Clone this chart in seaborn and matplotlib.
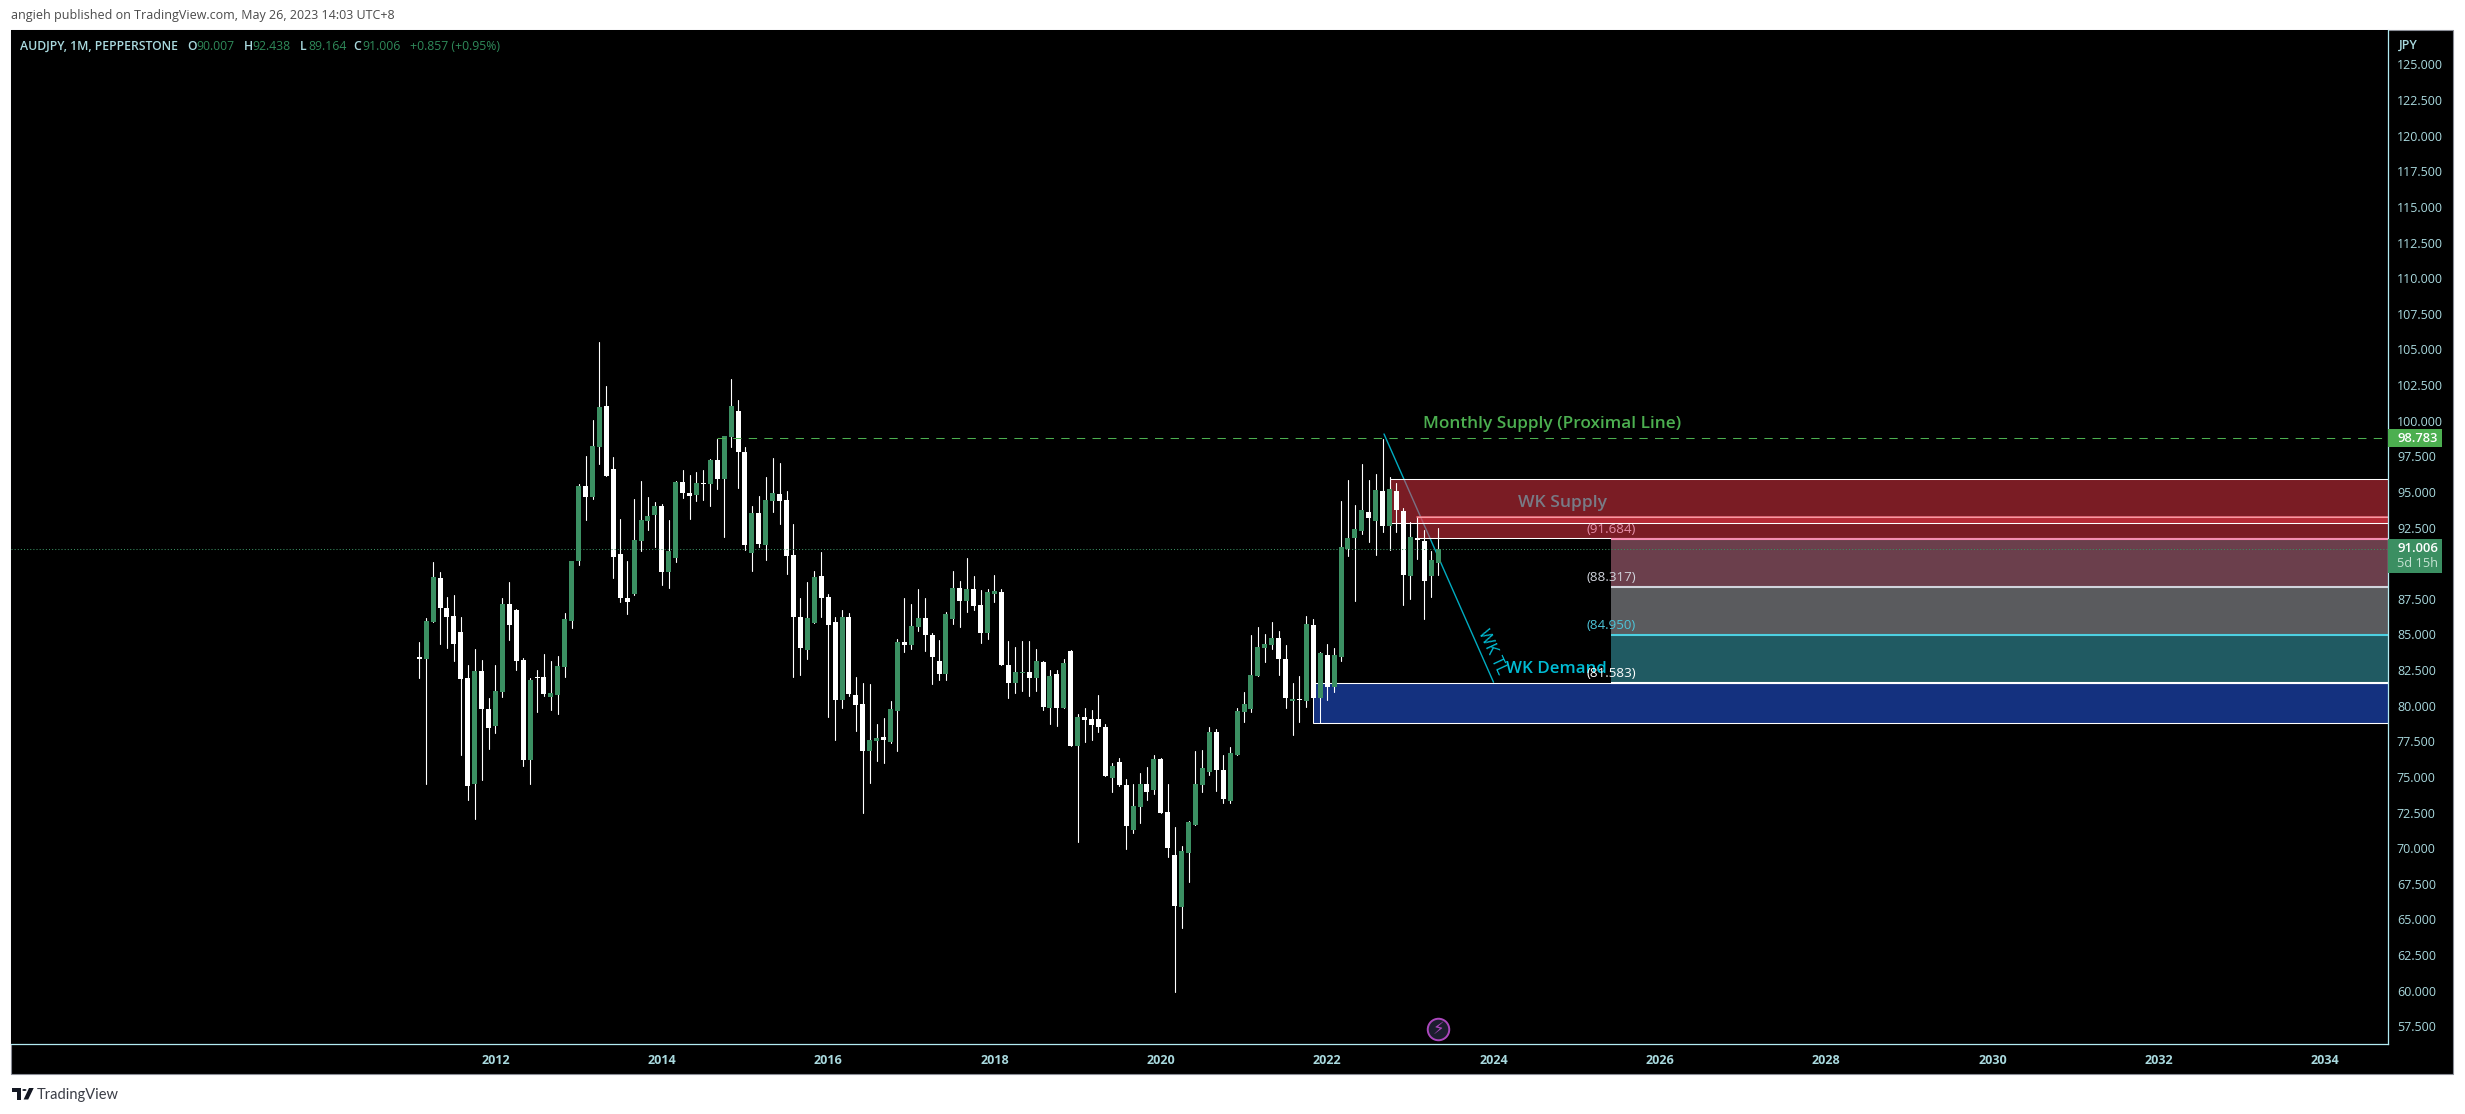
import numpy as np
import pandas as pd
import seaborn as sns
import matplotlib.pyplot as plt
from matplotlib.patches import Rectangle, Polygon, Circle

## monthly candles Feb 2011 - May 2023
opens = [83.42,83.28,85.90,88.96,86.86,86.30,85.18,81.95,74.51,82.44,79.77,78.58,80.96,87.14,86.72,83.21,76.19,82.02,82.02,80.61,
         80.75,82.72,85.95,90.16,95.42,94.65,98.16,101.03,96.61,90.65,87.56,87.84,91.56,92.96,93.39,94.02,89.39,90.37,95.70,94.93,
         94.79,95.63,95.56,97.25,95.91,98.86,100.68,97.81,90.72,93.53,91.28,94.37,94.86,94.44,90.58,86.23,83.91,85.81,89.10,87.63,
         85.88,80.40,86.23,80.75,80.12,76.82,77.53,77.80,77.45,79.63,84.47,84.26,85.52,86.15,84.96,83.14,82.22,86.08,88.26,87.35,
         88.19,87.07,85.10,87.84,87.98,82.86,81.59,82.29,82.37,81.94,83.07,79.84,82.22,79.84,83.84,77.17,79.21,79.07,79.07,78.51,
         74.93,76.05,74.43,71.28,72.89,74.50,74.08,76.26,72.54,69.52,65.87,69.66,71.63,74.43,75.35,78.15,75.49,73.31,76.54,79.56,
         79.77,82.09,84.05,84.26,84.75,83.28,80.33,80.47,80.33,85.66,80.54,83.56,81.31,83.41,91.00,91.77,92.26,93.59,92.96,95.06,
         92.61,95.06,93.66,89.10,91.77,91.56,89.10,90.007]
highs = [84.47,86.13,90.06,89.36,87.61,87.75,86.20,82.86,83.96,83.21,80.54,82.86,87.54,88.68,86.79,83.35,81.95,82.51,83.63,83.14,
         83.49,86.51,90.16,95.56,97.53,100.05,105.53,102.44,97.46,93.10,90.16,94.51,95.77,94.65,94.30,94.16,93.03,95.77,96.54,96.19,
         96.40,96.54,97.32,98.72,98.93,102.93,101.46,98.16,94.02,94.72,96.05,97.39,97.03,95.07,92.75,87.56,88.68,89.46,90.79,87.84,
         86.23,86.72,86.51,82.02,81.60,81.53,78.72,79.13,80.33,84.68,87.56,87.14,88.19,87.56,85.10,84.61,86.58,89.45,88.75,90.37,
         89.10,88.12,88.19,89.17,88.19,84.54,84.12,84.54,84.54,83.98,83.14,82.50,82.50,83.28,83.91,79.42,79.84,79.70,80.75,78.72,
         75.98,76.33,74.86,74.50,75.28,75.70,76.54,76.33,74.50,71.48,70.15,71.91,76.82,76.89,78.50,78.36,76.54,77.10,79.84,80.96,
         84.96,85.52,85.03,85.87,85.24,84.26,81.59,82.09,86.30,86.08,83.77,84.33,84.05,94.36,95.84,94.08,96.96,95.84,96.26,98.71,
         96.05,95.63,93.87,92.89,93.17,92.33,90.85,92.438]
lows = [81.95,74.51,85.90,84.33,84.05,83.14,76.54,73.38,72.05,74.79,76.96,78.09,80.61,84.61,82.51,75.77,74.51,79.56,80.68,79.70,
        79.42,82.02,85.46,89.88,93.03,94.51,96.96,96.12,88.96,87.28,86.44,87.77,90.86,92.33,91.14,88.47,88.26,90.09,94.58,93.10,
        94.37,94.44,94.02,95.21,91.84,98.16,95.28,90.93,89.46,91.14,90.23,93.60,92.75,89.25,82.02,82.16,83.28,85.81,86.23,79.21,
        77.60,79.84,80.68,78.23,72.47,74.58,76.12,75.98,77.38,76.82,83.77,83.98,85.24,83.84,81.52,81.80,81.80,85.73,85.52,86.58,
        86.72,84.40,84.68,87.28,82.86,80.54,80.89,81.03,80.68,81.03,79.70,78.72,78.58,79.84,77.17,70.43,77.45,77.59,78.15,75.07,
        73.94,74.36,69.94,71.07,71.77,73.38,73.80,72.47,69.38,59.91,64.40,67.63,71.63,73.94,75.14,74.01,73.17,73.17,76.54,78.86,
        79.56,82.09,83.07,83.98,82.15,79.84,77.94,78.86,79.91,80.54,80.54,80.40,80.96,83.13,90.50,87.34,92.05,91.49,90.57,92.19,
        90.92,92.19,87.06,87.48,90.29,86.08,87.63,89.164]
closes = [83.28,85.95,89.03,86.86,86.23,84.33,81.88,74.37,82.44,79.77,78.44,81.03,87.14,85.67,83.14,76.19,81.81,81.95,80.82,80.89,
          82.79,86.09,90.16,95.42,94.65,98.23,100.96,96.12,90.44,87.56,87.28,91.63,93.03,93.31,94.02,89.39,90.86,95.70,94.93,94.72,
          95.63,95.56,97.25,95.91,98.93,101.03,97.81,91.28,93.53,91.35,94.44,94.93,94.37,90.51,86.23,84.05,86.16,89.03,87.56,85.67,
          80.40,86.23,80.82,80.05,76.82,77.60,77.74,77.59,79.77,84.47,84.26,85.59,86.15,84.96,83.42,82.22,86.43,88.26,87.35,88.19,
          87.00,85.10,87.98,88.05,82.86,81.59,82.37,82.37,81.94,83.14,79.91,82.09,79.84,83.00,77.17,79.21,79.00,78.65,78.51,75.07,
          75.77,74.43,71.56,72.96,74.50,73.94,76.26,72.47,70.01,65.94,69.80,71.84,74.50,75.63,78.15,75.49,73.45,76.68,79.63,80.12,
          82.15,84.12,84.33,84.75,83.28,80.54,80.47,80.40,85.73,80.54,83.70,81.31,83.56,91.13,91.77,92.40,93.73,93.17,95.13,92.61,
          95.20,93.73,89.17,91.84,91.63,88.75,90.22,91.006]

# price axis / time axis
price_ticks = [57.5 + 2.5 * i for i in range(28)]
years = list(range(2012, 2036, 2))
year_pos = [11 + 12 * (y - 2012) for y in years]   # months since Feb 2011

# drawn levels
last_close = 91.006
proximal = 98.783
fib_levels = [91.684, 88.317, 84.950, 81.583]
fib_labels = ['(91.684)', '(88.317)', '(84.950)', '(81.583)']
supply_a = (140.1, 92.80, 95.88)
supply_b = (144.0, 91.75, 93.22)
demand_a = (129.0, 78.76, 81.57)
demand_b = (130.0, 78.76, 81.57)
fib_start = 172.0
trend_x = [139.2, 155.0]
trend_y = [99.07, 81.65]

W, H = 2465, 1114
GREEN = '#3b8f62'
PALE = '#a9d9de'
FONT = 'Open Sans'

sns.set_theme(style='dark', rc={'axes.facecolor': 'black', 'figure.facecolor': 'white'})
plt.rcParams['font.family'] = [FONT, 'DejaVu Sans']

fig = plt.figure(figsize=(W / 100, H / 100), dpi=100)

def fx(px):
    return px / W

def fy(py):
    return 1 - py / H

# black chart frame behind the axes
fig.add_artist(Rectangle((fx(11), fy(1074)), fx(2442), (1074 - 30) / H, transform=fig.transFigure,
                         fc='black', ec='#8a8d96', lw=0.8, zorder=-1))

ax = fig.add_axes([fx(11), fy(1044.3), (2388.3 - 11) / W, (1044.3 - 30) / H])

df = pd.DataFrame({'idx': np.arange(len(opens)), 'open': opens, 'high': highs, 'low': lows, 'close': closes})
df['bottom'] = df[['open', 'close']].min(axis=1)
df['body'] = (df['close'] - df['open']).abs()

## zones go first, the candles sit on top of them
xmax = 284.1
def zone(x0, y0, y1, face, alpha, edge='white', lw=0.75, z=1.5):
    ax.add_patch(Rectangle((x0, y0), xmax + 5 - x0, y1 - y0, fc=face, alpha=alpha, ec='none', zorder=z))
    if edge:
        ax.add_patch(Rectangle((x0, y0), xmax + 5 - x0, y1 - y0, fc='none', ec=edge, lw=lw, zorder=z + 0.1))

ax.plot(trend_x, trend_y, color='#00acc1', lw=1.0, zorder=1)

zone(supply_a[0], supply_a[1], supply_a[2], '#f43848', 0.5)
zone(supply_b[0], supply_b[1], supply_b[2], '#f43848', 0.5)
ax.plot([supply_b[0], xmax], [supply_b[2], supply_b[2]], color='#f47a86', lw=1.1, zorder=1.8)
zone(demand_a[0], demand_a[1], demand_a[2], '#2962ff', 0.5)
zone(demand_b[0], demand_b[1], demand_b[2], '#2962ff', 0.0)

# fib box, filled bands between the levels
band_colors = ['#6b3f4c', '#5a5b5e', '#205a62']
line_colors = ['#f48fb1', '#d1d4dc', '#4dd0e1', '#ffffff']
text_colors = ['#e58fa8', '#d1d4dc', '#4dc4d8', '#ffffff']
for i in range(3):
    ax.add_patch(Rectangle((fib_start, fib_levels[i + 1]), xmax + 5 - fib_start, fib_levels[i] - fib_levels[i + 1],
                           fc=band_colors[i], ec='none', zorder=1.9))
for lvl, lab, lc, tc in zip(fib_levels, fib_labels, line_colors, text_colors):
    ax.plot([fib_start, xmax + 5], [lvl, lvl], color=lc, lw=1.5, zorder=2, solid_capstyle='butt')
    ax.text(fib_start, lvl + 0.68, lab, color=tc, fontsize=9.6, ha='center', va='center', zorder=6)

## wicks and bodies
wicks = pd.concat([df[['idx', 'low']].rename(columns={'low': 'price'}),
                   df[['idx', 'high']].rename(columns={'high': 'price'})]).sort_values('idx', kind='stable')
sns.lineplot(data=wicks, x='idx', y='price', units='idx', estimator=None, color='white',
             lw=0.8, snap=True, sort=False, legend=False, ax=ax, zorder=2.5)

up = df[df['close'] >= df['open']]
down = df[df['close'] < df['open']]
sns.barplot(data=up, x='idx', y='body', bottom=up['bottom'], native_scale=True, width=0.72, color=GREEN,
            saturation=1, errorbar=None, linewidth=0, ax=ax, zorder=3)
sns.barplot(data=down, x='idx', y='body', bottom=down['bottom'], native_scale=True, width=0.72, color='white',
            saturation=1, errorbar=None, linewidth=0, ax=ax, zorder=3)

# price lines
ax.axhline(last_close, color=GREEN, lw=0.75, ls=(0, (1, 2)), zorder=4)
ax.plot([42.9, xmax], [proximal, proximal], color='#4caf50', lw=0.75, ls=(0, (8, 7)), zorder=4)

## drawing labels
ax.text(163.4, 99.78, 'Monthly Supply (Proximal Line)', color='#4caf50', fontsize=12.4, weight='semibold',
        ha='center', va='center', zorder=6)
ax.text(165.0, 94.2, 'WK Supply', color='#787b86', fontsize=12.6, weight='semibold', ha='center', va='center', zorder=6)
ax.text(164.0, 82.6, 'WK Demand', color='#00bcd4', fontsize=12.2, weight='semibold', ha='center', va='center', zorder=5)
ax.text(154.7, 83.8, 'WK TL', color='#00bcd4', fontsize=12, rotation=-65, ha='center', va='center', zorder=5)

# lightning badge at the bottom of the pane
ax.plot([147], [57.29], marker='o', ms=15.5, mfc='#1c1e2e', mec='#ab47bc', mew=1.4, zorder=6, clip_on=False)
ax.text(147, 57.29, '\u26a1', color='#ab47bc', fontsize=12, family='DejaVu Sans', ha='center', va='center', zorder=7)

## axes
ax.set_xlim(-58.9, xmax)
ax.set_ylim(56.24, 127.42)
ax.yaxis.tick_right()
ax.set_yticks(price_ticks, [f'{p:.3f}' for p in price_ticks])
ax.set_xticks(year_pos, [str(y) for y in years])
ax.tick_params(axis='y', length=0, pad=6.2, labelsize=9, labelcolor=PALE)
ax.tick_params(axis='x', length=0, pad=7.2, labelsize=9, labelcolor=PALE)
for t in ax.get_xticklabels():
    t.set_fontweight('bold')
ax.set_xlabel('')
ax.set_ylabel('')
ax.grid(False)
for side in ['top', 'left']:
    ax.spines[side].set_visible(False)
for side in ['right', 'bottom']:
    ax.spines[side].set_visible(True)
    ax.spines[side].set_color('#b2ebf2')
    ax.spines[side].set_linewidth(0.9)

# last price tags on the scale
trans = ax.get_yaxis_transform()
ax.add_patch(Rectangle((1.0, proximal - 0.65), 0.0225, 1.31, transform=trans, fc='#4caf50', ec='none', clip_on=False, zorder=8))
ax.text(1.0038, proximal, '98.783', transform=trans, color='white', fontsize=9.4, weight='semibold', va='center', zorder=9)
ax.add_patch(Rectangle((1.0, 89.33), 0.0225, 2.37, transform=trans, fc=GREEN, ec='none', clip_on=False, zorder=8))
ax.text(1.0038, 91.0, '91.006', transform=trans, color='white', fontsize=9.4, weight='semibold', va='center', zorder=9)
ax.text(1.0038, 89.98, '5d 15h', transform=trans, color='#c6e3d3', fontsize=9.2, va='center', zorder=9)

## header and footer text
fig.text(fx(2399), fy(45), 'JPY', color=PALE, fontsize=9, weight='semibold', va='center')
fig.text(fx(11), fy(15.5), 'angieh published on TradingView.com, May 26, 2023 14:03 UTC+8', color='#4a4a4a',
         fontsize=9, va='center')
fig.text(fx(20), fy(46), 'AUDJPY, 1M, PEPPERSTONE', color=PALE, fontsize=8.8, weight='semibold', va='center')
for px, letter, num in [(187.5, 'O', '90.007'), (243.6, 'H', '92.438'), (300, 'L', '89.164'), (353.6, 'C', '91.006')]:
    fig.text(fx(px), fy(46), letter, color=PALE, fontsize=8.8, weight='semibold', va='center')
    fig.text(fx(px + 8.5), fy(46), num, color='#2f8a5a', fontsize=8.8, va='center')
fig.text(fx(410), fy(46), '+0.857 (+0.95%)', color='#2f8a5a', fontsize=8.8, va='center')

# tradingview mark
def px_poly(pts):
    return [(fx(x), fy(y)) for x, y in pts]

logo = '#131722'
fig.add_artist(Polygon(px_poly([(11.5, 1088), (21, 1088), (21, 1099.5), (16.5, 1099.5), (16.5, 1092.3), (11.5, 1092.3)]),
                       transform=fig.transFigure, fc=logo, ec='none'))
fig.add_artist(Polygon(px_poly([(29, 1088), (33.7, 1088), (28.2, 1099.5), (23.6, 1099.5)]),
                       transform=fig.transFigure, fc=logo, ec='none'))
fig.add_artist(Circle((fx(24.4), fy(1090)), 2.1 / W, transform=fig.transFigure, fc=logo, ec='none'))
fig.text(fx(37), fy(1095), 'TradingView', color='#3a3d46', fontsize=10.5, family='Lato', va='center')

fig.savefig('out.png', dpi=100)
